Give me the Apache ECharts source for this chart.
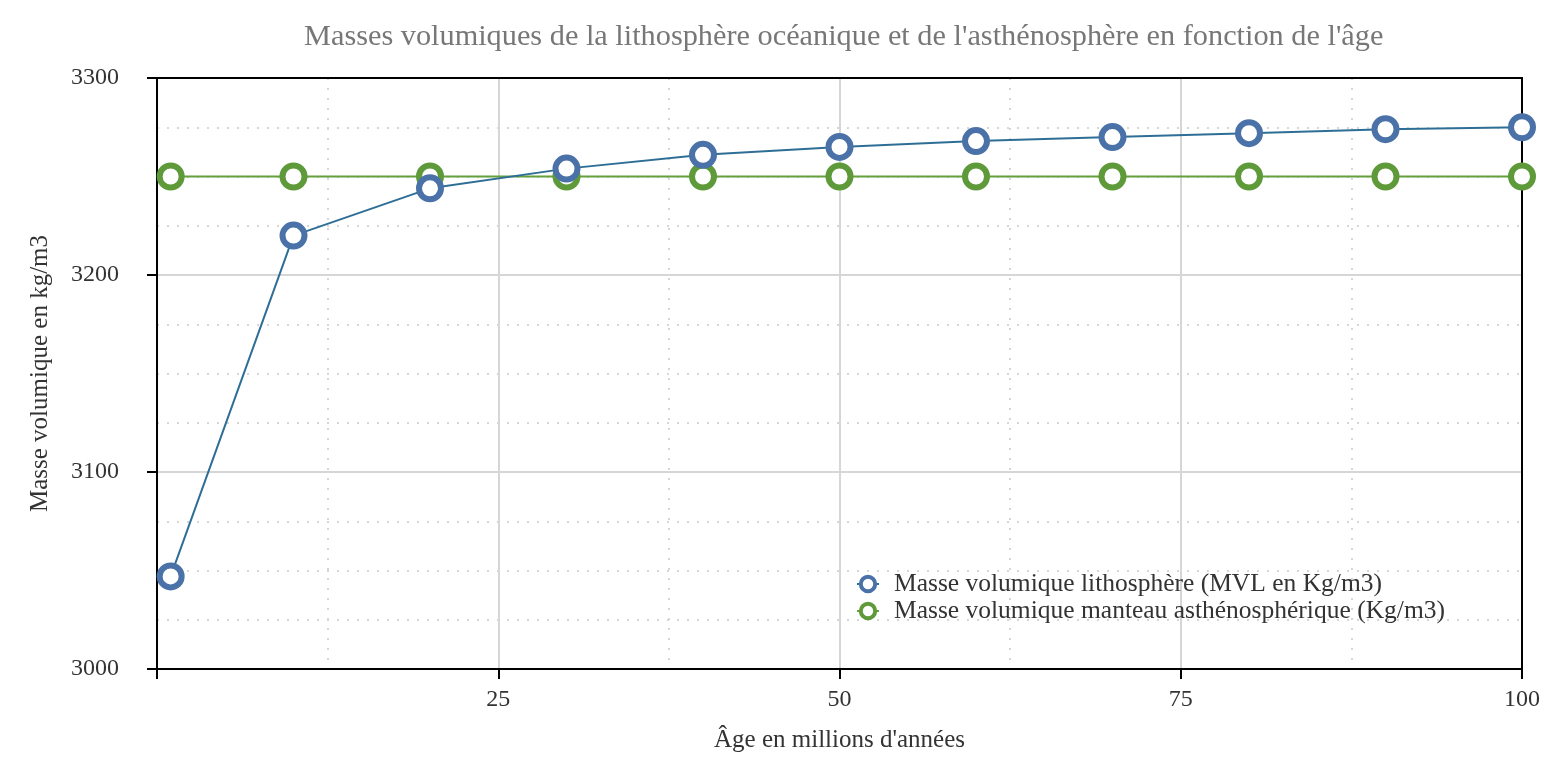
<!DOCTYPE html>
<html>
<head>
<meta charset="utf-8">
<script src="https://cdn.jsdelivr.net/npm/echarts@6/dist/echarts.min.js"></script>
<style>
  html, body { margin: 0; padding: 0; background: #fff; }
  #chart-container { width: 1558px; height: 771px; }
</style>
</head>
<body>
<div id="chart-container"></div>
<script>
var dom = document.getElementById('chart-container');
var myChart = echarts.init(dom, null, { renderer: 'canvas' });

// ages in millions of years
var ages = [1, 10, 20, 30, 40, 50, 60, 70, 80, 90, 100];
// lithosphere density (kg/m3)
var lithosphere = [3047, 3220, 3244, 3254, 3261, 3265, 3268, 3270, 3272, 3274, 3275];
// asthenosphere mantle density (kg/m3)
var asthenosphere = [3250, 3250, 3250, 3250, 3250, 3250, 3250, 3250, 3250, 3250, 3250];

var seriesNames = [
  'Masse volumique lithosphère (MVL en Kg/m3)',
  'Masse volumique manteau asthénosphérique (Kg/m3)'
];

function pairs(values) {
  return ages.map(function (a, i) { return [a, values[i]]; });
}

var font = 'Liberation Serif';
var gridColor = '#d6d6d6';

// plain black frame line for top / right edges
function frameAxis(extra) {
  return Object.assign({
    type: 'value',
    axisLine: { show: true, onZero: false, lineStyle: { color: '#000', width: 2 } },
    axisTick: { show: false },
    axisLabel: { show: false },
    splitLine: { show: false }
  }, extra);
}

var option = {
  textStyle: { fontFamily: font },
  animation: false,
  title: {
    text: "Masses volumiques de la lithosphère océanique et de l'asthénosphère en fonction de l'âge",
    left: 299,
    top: 17,
    textStyle: { fontFamily: font, fontSize: 30.3, fontWeight: 'normal', color: '#777' }
  },
  legend: {
    orient: 'vertical',
    left: 851,
    top: 566,
    itemGap: 1,
    itemWidth: 22,
    itemHeight: 18,
    textStyle: { fontFamily: font, fontSize: 25.5, color: '#333', padding: [0, 0, 0, 10] },
    data: [
      { name: seriesNames[0], itemStyle: { color: '#fff', borderColor: '#4a72a8', borderWidth: 4 } },
      { name: seriesNames[1], itemStyle: { color: '#fff', borderColor: '#5e9a3a', borderWidth: 4 } }
    ]
  },
  grid: {
    left: 157,
    right: 36,
    top: 78,
    bottom: 102
  },
  xAxis: [{
    type: 'value',
    min: 0,
    max: 100,
    interval: 25,
    name: "Âge en millions d'années",
    nameLocation: 'middle',
    nameGap: 59,
    nameTextStyle: { fontFamily: font, fontSize: 25, color: '#333' },
    axisLine: { show: true, onZero: false, lineStyle: { color: '#000', width: 2 } },
    axisTick: { show: true, inside: false, length: 10, lineStyle: { color: '#000', width: 2 } },
    axisLabel: {
      margin: 19, fontFamily: font, fontSize: 24, color: '#333',
      formatter: function (v) { return v === 0 ? '' : String(v); }
    },
    splitLine: { show: true, lineStyle: { color: gridColor, width: 2 } },
    minorTick: { show: false, splitNumber: 2 },
    minorSplitLine: { show: true, lineStyle: { color: gridColor, width: 2, type: [2, 8] } }
  }, frameAxis({ position: 'top', min: 0, max: 100 })],
  yAxis: [{
    type: 'value',
    min: 3000,
    max: 3300,
    interval: 100,
    name: 'Masse volumique en kg/m3',
    nameLocation: 'middle',
    nameGap: 104,
    nameTextStyle: { fontFamily: font, fontSize: 25, color: '#333' },
    axisLine: { show: true, onZero: false, lineStyle: { color: '#000', width: 2 } },
    axisTick: { show: true, inside: false, length: 10, lineStyle: { color: '#000', width: 2 } },
    axisLabel: {
      margin: 38, fontFamily: font, fontSize: 24, color: '#333',
      formatter: function (v) { return String(v); }
    },
    splitLine: { show: true, lineStyle: { color: gridColor, width: 2 } },
    minorTick: { show: false, splitNumber: 4 },
    minorSplitLine: { show: true, lineStyle: { color: gridColor, width: 2, type: [2, 8] } }
  }, frameAxis({ position: 'right', min: 3000, max: 3300 })],
  series: [
    {
      name: seriesNames[0],
      type: 'line',
      data: pairs(lithosphere),
      symbol: 'circle',
      symbolSize: 22,
      z: 3,
      lineStyle: { color: '#2e6e96', width: 2 },
      itemStyle: { color: '#fff', borderColor: '#4a72a8', borderWidth: 6 }
    },
    {
      name: seriesNames[1],
      type: 'line',
      data: pairs(asthenosphere),
      symbol: 'circle',
      symbolSize: 22,
      z: 2,
      lineStyle: { color: '#64a03c', width: 2 },
      itemStyle: { color: '#fff', borderColor: '#5e9a3a', borderWidth: 6 }
    }
  ]
};

myChart.setOption(option);
window.addEventListener('resize', myChart.resize);
</script>
</body>
</html>
